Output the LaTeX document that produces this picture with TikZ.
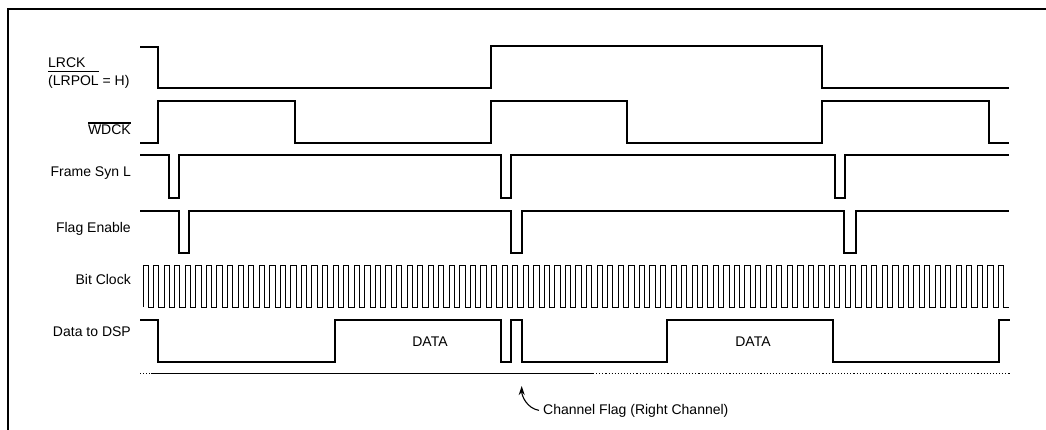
\documentclass[tikz,border=0pt]{standalone}
\usepackage{fontspec}
\setmainfont{Liberation Sans}
\usetikzlibrary{arrows.meta}
\newcommand\ovl[2][1.5pt]{\leavevmode\vbox{\hrule height 1.3pt\kern#1\hbox{#2}}}
\begin{document}
\begin{tikzpicture}[x=1pt,y=-1pt,
  wave/.style={line width=1.7pt,line join=miter},
  clk/.style={line width=1.0pt},
  frame/.style={line width=1.8pt},
  lbl/.style={inner sep=0pt,font=\fontsize{14}{18}\selectfont},
  dot/.style={line width=1.1pt,dotted},
  arr/.style={line width=1.1pt,-{Stealth[length=9pt,width=6pt]}}]
\useasboundingbox (0,0) rectangle (1046,430);
% frame
\draw[frame] (8,430) -- (8,9) -- (1046,9);
% labels
\node[lbl,anchor=base west,align=left] (lrck) at (48,67.7) {LRCK};
\node[lbl,anchor=base west] (lrpol) at (48,85.5) {\ovl[3pt]{(LRPOL} = H)};
\node[lbl,anchor=base east] (wdck) at (131,135) {\ovl{WDCK}};
\node[lbl,anchor=base east] (fsl) at (131,176.7) {Frame Syn L};
\node[lbl,anchor=base east] (fen) at (131,232.7) {Flag Enable};
\node[lbl,anchor=base east] (bck) at (131,284.3) {Bit Clock};
\node[lbl,anchor=base east] (dsp) at (131,336.7) {Data to DSP};
\node[lbl,anchor=base] (data1) at (430,346) {DATA};
\node[lbl,anchor=base] (data2) at (753,346) {DATA};
\node[lbl,anchor=base west] (flag) at (543,414) {Channel Flag (Right Channel)};
% LRCK
\draw[wave] (140,47) -- (157.7,47) -- (157.7,88) -- (490.7,88) -- (490.7,46)
  -- (822.3,46) -- (822.3,88) -- (1009,88);
% WDCK
\draw[wave] (140,143) -- (157.7,143) -- (157.7,101) -- (295,101) -- (295,143)
  -- (490.7,143) -- (490.7,101) -- (627,101) -- (627,143) -- (822.3,143)
  -- (822.3,101) -- (989.3,101) -- (989.3,143) -- (1009,143);
% Frame Syn L
\draw[wave] (140,155) -- (169.3,155) -- (169.3,198) -- (179,198) -- (179,155)
  -- (501,155) -- (501,198) -- (511,198) -- (511,155) -- (835,155) -- (835,198)
  -- (845,198) -- (845,155) -- (1009,155);
% Flag Enable
\draw[wave] (140,211) -- (179,211) -- (179,253) -- (189.3,253) -- (189.3,211)
  -- (511,211) -- (511,253) -- (522,253) -- (522,211) -- (844.3,211)
  -- (844.3,253) -- (856,253) -- (856,211) -- (1009,211);
% Bit clock
\draw[clk] (143,307) foreach \i in {0,...,81} { -- ++(0,-41) -- ++(5.28,0) -- ++(0,41) -- ++(5.28,0) };
% Data to DSP
\draw[wave] (140,320) -- (157.7,320) -- (157.7,362) -- (335,362) -- (335,320)
  -- (501,320) -- (501,362) -- (511,362) -- (511,320) -- (521.7,320)
  -- (521.7,362) -- (667.3,362) -- (667.3,320) -- (833,320) -- (833,362)
  -- (999.3,362) -- (999.3,320) -- (1010,320);
% time line
\draw[dot] (140,373.3) -- (151,373.3);
\draw[line width=0.9pt] (151,373.3) -- (593,373.3);
\draw[dot] (593,373.3) -- (1010,373.3);
% channel flag arrow
\coordinate (tip) at (521.7,386);
\draw[arr] ([xshift=-4pt]flag.west) .. controls +(-12,-2) and +(0,10) .. (tip);
\end{tikzpicture}
\end{document}
